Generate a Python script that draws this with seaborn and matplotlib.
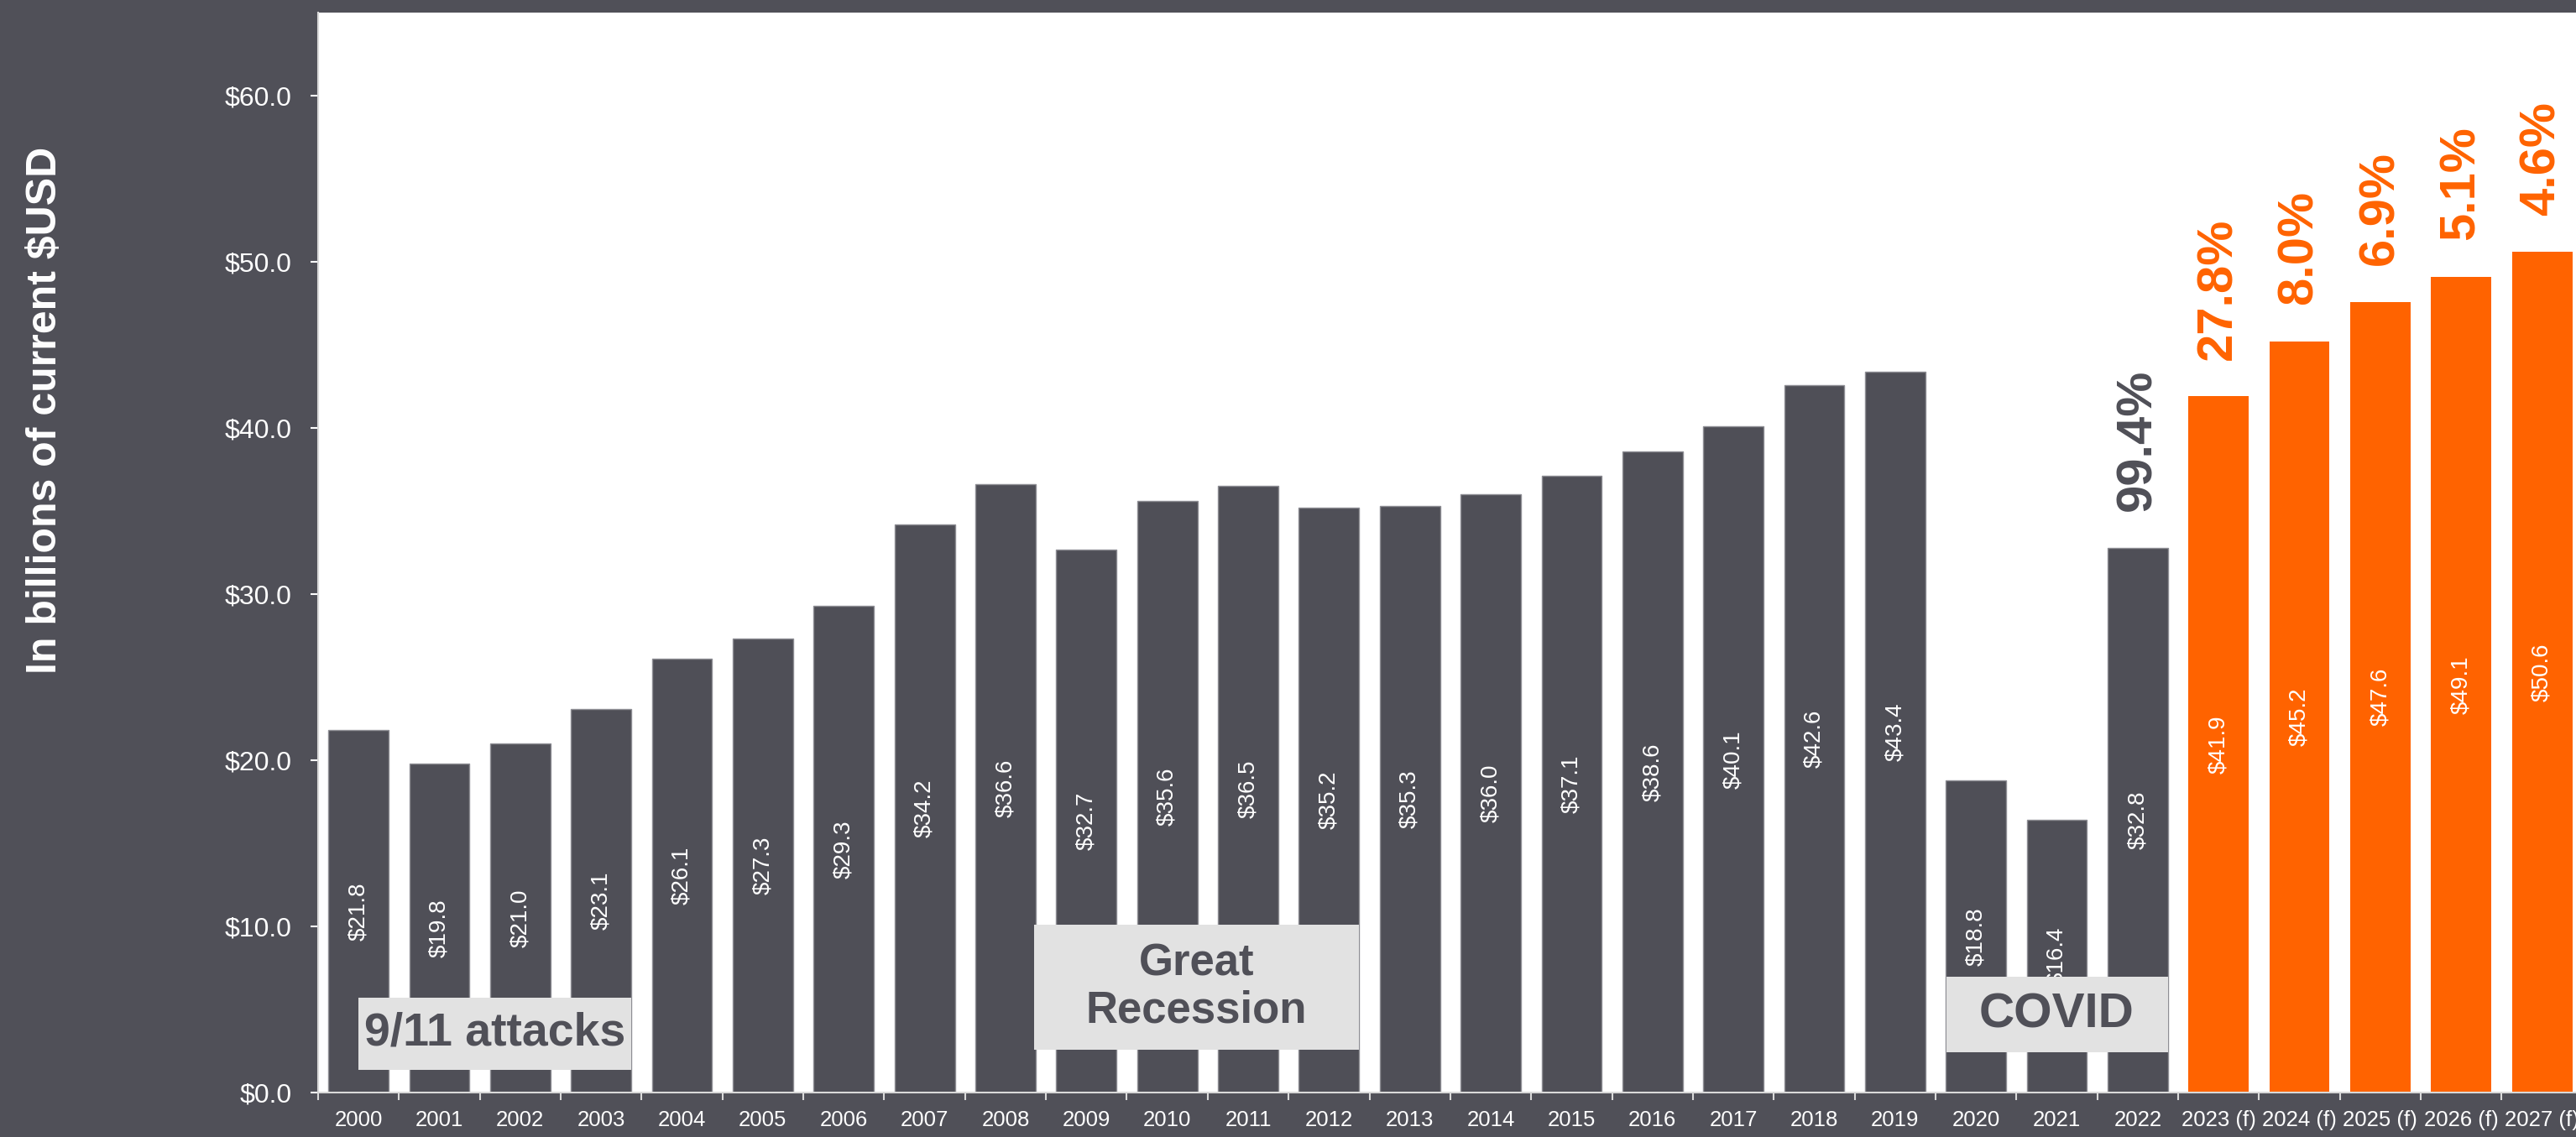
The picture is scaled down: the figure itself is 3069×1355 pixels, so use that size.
import matplotlib
matplotlib.use("Agg")
import matplotlib.pyplot as plt
from matplotlib.patches import Rectangle
import seaborn as sns
import pandas as pd
import numpy as np

# ---------------- data ----------------
years = ["2000", "2001", "2002", "2003", "2004", "2005", "2006", "2007", "2008", "2009",
         "2010", "2011", "2012", "2013", "2014", "2015", "2016", "2017", "2018", "2019",
         "2020", "2021", "2022", "2023 (f)", "2024 (f)", "2025 (f)", "2026 (f)", "2027 (f)"]
values = [21.8, 19.8, 21.0, 23.1, 26.1, 27.3, 29.3, 34.2, 36.6, 32.7,
          35.6, 36.5, 35.2, 35.3, 36.0, 37.1, 38.6, 40.1, 42.6, 43.4,
          18.8, 16.4, 32.8, 41.9, 45.2, 47.6, 49.1, 50.6]
kinds = ["actual"] * 23 + ["forecast"] * 5
growth_years = ["2022", "2023 (f)", "2024 (f)", "2025 (f)", "2026 (f)", "2027 (f)"]
growth_pct = [99.4, 27.8, 8.0, 6.9, 5.1, 4.6]
event_labels = ["9/11 attacks", "Great\nRecession", "COVID"]
y_ticks = [0, 10, 20, 30, 40, 50, 60]

# ---------------- style ----------------
BG = "#505058"
GRAY = "#4f4f57"
ORANGE = "#ff6300"
BOX = "#e2e2e2"
W, H, DPI = 3069, 1355, 100

sns.set_theme(style="white")
plt.rcParams["font.family"] = ["Liberation Sans", "DejaVu Sans"]

fig = plt.figure(figsize=(W / DPI, H / DPI), dpi=DPI, facecolor=BG)
ax_left = 379 / W
ax_bottom = 1 - 1302 / H
ax_width = 28 * 96.35 / W
ax_height = (1302 - 15) / H
ax = fig.add_axes([ax_left, ax_bottom, ax_width, ax_height])
ax.set_facecolor("white")

df = pd.DataFrame({"year": years, "value": values, "kind": kinds})
sns.barplot(data=df, x="year", y="value", hue="kind",
            palette={"actual": GRAY, "forecast": ORANGE},
            dodge=False, width=0.745, saturation=1, legend=False, ax=ax, zorder=2)

for p in ax.patches:
    fc = p.get_facecolor()
    if fc[0] < 0.5:  # gray bars get a thin light outline
        p.set_edgecolor("#8e8e94")
        p.set_linewidth(1.0)
    else:
        p.set_edgecolor("none")

ax.set_xlim(-0.5, 27.5)
ax.set_ylim(0, 65)

# value labels inside bars
for i, v in enumerate(values):
    ax.text(i, v / 2, f"${v:.1f}", rotation=90, ha="center", va="center",
            color="white", fontsize=20, zorder=5)

# growth labels above bars
for yr, g in zip(growth_years, growth_pct):
    i = years.index(yr)
    col = GRAY if kinds[i] == "actual" else ORANGE
    ax.text(i, values[i] + 2.2, f"{g:.1f}%", rotation=90, ha="center", va="bottom",
            color=col, fontsize=43, fontweight="bold", zorder=5)

# event boxes
event_boxes = [(0.0, 3.37, 1.38, 5.70, 40),
               (8.35, 12.37, 2.56, 10.10, 38),
               (19.63, 22.37, 2.40, 6.95, 42)]
for lab, (x0, x1, y0, y1, fs) in zip(event_labels, event_boxes):
    ax.add_patch(Rectangle((x0, y0), x1 - x0, y1 - y0, facecolor=BOX,
                           edgecolor="none", zorder=6))
    ax.text((x0 + x1) / 2, (y0 + y1) / 2, lab, ha="center", va="center",
            color=BG, fontsize=fs, fontweight="bold", zorder=7, linespacing=1.15)

# axes styling
for s in ["top", "right"]:
    ax.spines[s].set_visible(False)
for s in ["left", "bottom"]:
    ax.spines[s].set_color("#d9d9d9")
    ax.spines[s].set_linewidth(1.5)
    ax.spines[s].set_zorder(8)

ax.set_yticks(y_ticks)
ax.set_yticklabels([f"${t:.1f}" for t in y_ticks])
ax.tick_params(axis="y", which="major", colors="white", labelcolor="white",
               labelsize=23, length=6.5, width=1.5, direction="out", pad=16, left=True)

ax.set_xticks(range(len(years)))
ax.set_xticklabels(years)
ax.set_xticks(np.arange(-0.5, len(years) + 0.5, 1), minor=True)
ax.tick_params(axis="x", which="major", length=0, labelcolor="white",
               labelsize=18.5, pad=15)
ax.tick_params(axis="x", which="minor", length=6.5, width=1.5, color="#d9d9d9",
               direction="out", bottom=True)
ax.set_xlabel("")
ax.set_ylabel("")

fig.text(0.0175, 0.639, "In billions of current $USD", rotation=90,
         ha="center", va="center", color="white", fontsize=36, fontweight="bold")

fig.savefig("out.png", dpi=DPI, facecolor=BG)
